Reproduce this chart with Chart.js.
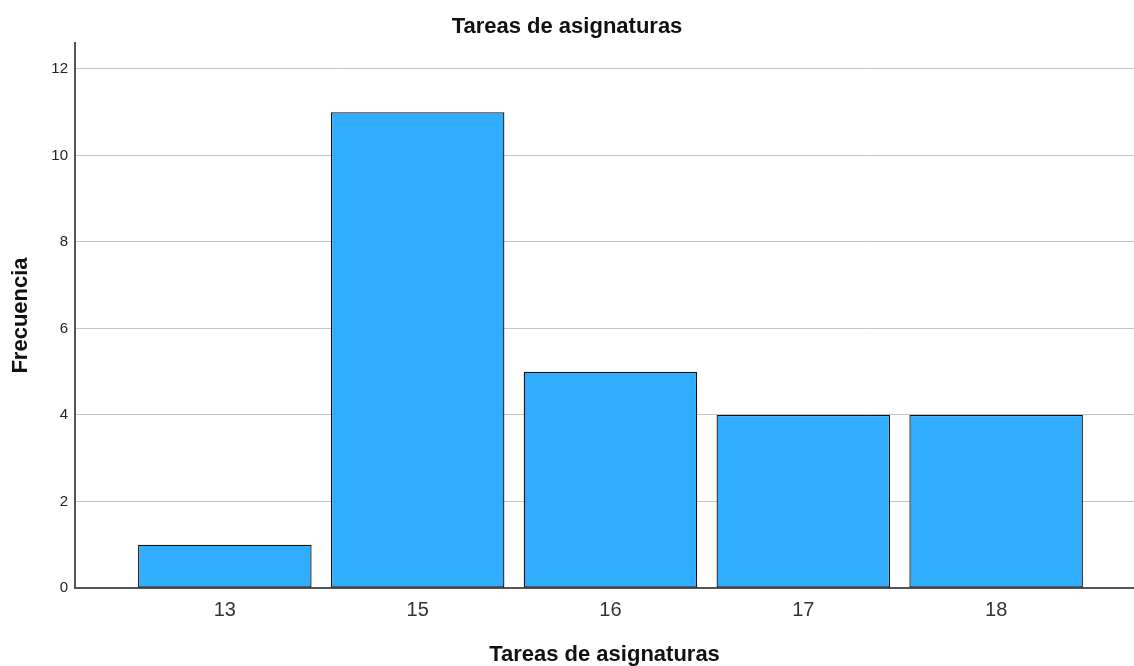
<!DOCTYPE html>
<html>
<head>
<meta charset="utf-8">
<script src="https://cdn.jsdelivr.net/npm/chart.js@4/dist/chart.umd.min.js"></script>
<style>
html,body{margin:0;padding:0;background:#fff;}
#wrap{width:1134px;height:666px;position:relative;}
</style>
</head>
<body>
<div id="wrap"><canvas id="c" width="1134" height="666"></canvas></div>
<script>
const categories = ['13', '15', '16', '17', '18'];
const frequencies = [1, 11, 5, 4, 4];
const yTicks = [0, 2, 4, 6, 8, 10, 12];
const chartTitle = 'Tareas de asignaturas';
const xTitle = 'Tareas de asignaturas';
const yTitle = 'Frecuencia';

const FONT = "'Liberation Sans', Arial, sans-serif";

new Chart(document.getElementById('c'), {
  type: 'bar',
  data: {
    datasets: [{
      data: frequencies.map((v, i) => ({x: i, y: v})),
      backgroundColor: '#30adff',
      borderColor: '#111',
      borderWidth: 1.3,
      borderSkipped: false,
      barPercentage: 0.9,
      categoryPercentage: 1
    }]
  },
  options: {
    responsive: false,
    animation: false,
    devicePixelRatio: 1,
    layout: {padding: 0},
    plugins: {
      legend: {display: false},
      tooltip: {enabled: false},
      title: {
        display: true,
        text: chartTitle,
        color: '#111',
        font: {family: FONT, size: 22, weight: 'bold', lineHeight: 1.2},
        padding: {top: 14, bottom: 2.6}
      }
    },
    scales: {
      x: {
        type: 'linear',
        offset: false,
        min: -0.777,
        max: 4.715,
        afterFit: s => { s.height = 78; },
        afterBuildTicks: s => { s.ticks = categories.map((c, i) => ({value: i})); },
        ticks: {
          callback: v => categories[v] ?? '',
          color: '#333',
          font: {family: FONT, size: 20},
          padding: 10,
          autoSkip: false,
          maxRotation: 0
        },
        grid: {display: false, drawTicks: false, offset: false},
        border: {display: true, color: '#555', width: 2},
        title: {
          display: true,
          text: xTitle,
          color: '#111',
          font: {family: FONT, size: 22, weight: 'bold', lineHeight: 1.2},
          padding: {top: 0, bottom: -2}
        }
      },
      y: {
        min: 0,
        max: 12.6,
        afterFit: s => { s.width = 75; },
        afterBuildTicks: s => { s.ticks = yTicks.map(v => ({value: v})); },
        ticks: {
          color: '#222',
          font: {family: FONT, size: 15},
          padding: 7
        },
        grid: {
          color: ctx => (ctx.tick && ctx.tick.value === 0) ? 'rgba(0,0,0,0)' : '#c4c4c4',
          lineWidth: 1,
          drawTicks: false
        },
        border: {display: true, color: '#555', width: 2},
        title: {
          display: true,
          text: yTitle,
          color: '#111',
          font: {family: FONT, size: 22, weight: 'bold', lineHeight: 1.2},
          padding: {top: 8, bottom: 0}
        }
      }
    }
  }
});
</script>
</body>
</html>
